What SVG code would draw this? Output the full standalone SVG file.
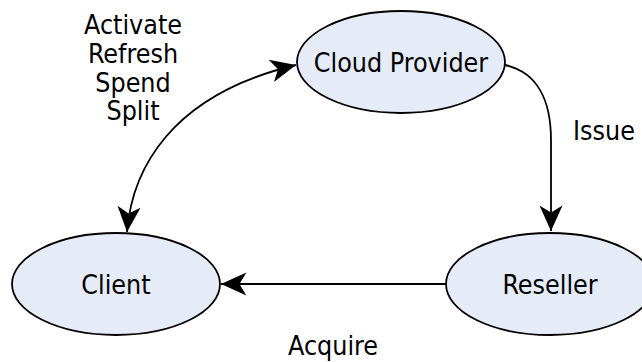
<svg xmlns="http://www.w3.org/2000/svg" width="642" height="362" viewBox="0 0 642 362">
<style>
.node ellipse { fill: #e6ecf7; stroke: #000; stroke-width: 1.8; }
text { font-family: "DejaVu Sans Condensed", "DejaVu Sans", sans-serif; font-stretch: condensed; font-size: 26.6px; fill: #000; text-anchor: middle; }
.edge { fill: none; stroke: #000; stroke-width: 1.8; }
</style>
<defs>
<marker id="ah" markerUnits="userSpaceOnUse" markerWidth="30" markerHeight="30" viewBox="-24 -12 26 24" refX="0" refY="0" orient="auto-start-reverse">
<path d="M0,0 L-22,-10 L-16,0 L-22,10 Z" fill="#000"/>
</marker>
</defs>
<g id="edges">
<path class="edge" d="M127,232 C132,170 170,95 296,65" marker-start="url(#ah)" marker-end="url(#ah)"/>
<path class="edge" d="M505,65 C537,72 551,100 551,140 L551,231" marker-end="url(#ah)"/>
<path class="edge" d="M446,284 L221,284" marker-end="url(#ah)"/>
<text x="133" y="34">Activate</text>
<text x="133" y="63">Refresh</text>
<text x="133" y="92">Spend</text>
<text x="133" y="120">Split</text>
<text x="604" y="140">Issue</text>
<text x="333" y="355">Acquire</text>
</g>
<g id="cloud" class="node">
<ellipse cx="401" cy="62" rx="104" ry="51"/>
<text x="401" y="71.5">Cloud Provider</text>
</g>
<g id="client" class="node">
<ellipse cx="116" cy="284" rx="104" ry="51"/>
<text x="116" y="293.5">Client</text>
</g>
<g id="reseller" class="node">
<ellipse cx="550" cy="284" rx="104" ry="51"/>
<text x="550" y="293.5">Reseller</text>
</g>
</svg>
